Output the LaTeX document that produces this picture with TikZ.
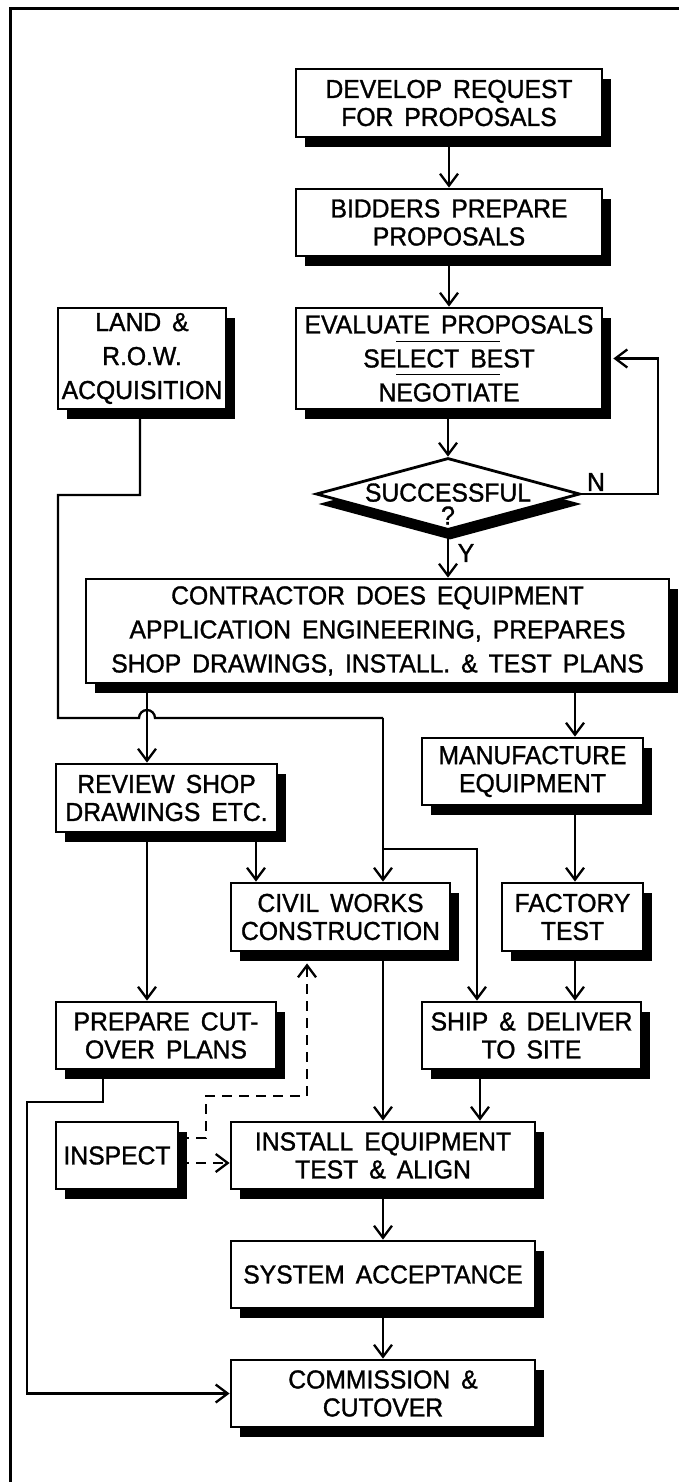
\documentclass[tikz,border=0pt]{standalone}
\usepackage{fontspec}
\setmainfont[FakeStretch=0.95,FakeBold=1.2,WordSpace=1.6]{Liberation Sans}
\usetikzlibrary{arrows.meta,shapes.geometric,shadows,calc}
\newcommand\bxfont{\fontsize{26}{28}\selectfont}
\newcommand\bxfontw{\fontsize{26}{34}\selectfont}
\newcommand\dcfont{\fontsize{26}{23}\selectfont}
\begin{document}
\begin{tikzpicture}[x=1pt,y=-1pt,
  shad/.style={drop shadow={shadow xshift=9pt,shadow yshift=-10pt,fill=black,opacity=1}},
  box/.style={draw,line width=2.8pt,fill=white,rectangle,inner sep=0pt,align=center,font=\bxfont,shad},
  boxw/.style={box,font=\bxfontw},
  conn/.style={line width=2.3pt},
  arr/.style={conn,-{Straight Barb[length=12pt,width=18pt]}},
  darr/.style={arr,dash pattern=on 10pt off 7pt},
  lbl/.style={font=\bxfont,inner sep=0pt}
]
\useasboundingbox (0,0) rectangle (679,1482);
% frame
\draw[line width=3pt] (679,9) -- (10,9) -- (10,1482);

% nodes
\node[box,minimum width=306pt,minimum height=68pt] (dev) at (449,103) {DEVELOP REQUEST\\FOR PROPOSALS};
\node[box,minimum width=306pt,minimum height=67pt] (bid) at (449,222.5) {BIDDERS PREPARE\\PROPOSALS};
\node[boxw,minimum width=306pt,minimum height=101pt] (eval) at (449,358.5) {EVALUATE PROPOSALS\\SELECT BEST\\NEGOTIATE};
\node[boxw,minimum width=168pt,minimum height=101pt] (land) at (142,358.5) {LAND \&\\R.O.W.\\ACQUISITION};
\node[draw,diamond,line width=2.8pt,fill=white,inner sep=0pt,minimum width=264pt,minimum height=72pt,
      drop shadow={shadow xshift=2pt,shadow yshift=-10pt,fill=black,opacity=1}] (dec) at (448,494) {};
\node[lbl,align=center,font=\dcfont] (dectxt) at (448,504) {SUCCESSFUL\\?};
\node[lbl] (nlab) at (596,482) {N};
\node[lbl] (ylab) at (466,553) {Y};
\node[boxw,minimum width=583pt,minimum height=104pt] (contr) at (377.5,631) {CONTRACTOR DOES EQUIPMENT\\APPLICATION ENGINEERING, PREPARES\\SHOP DRAWINGS, INSTALL. \& TEST PLANS};
\node[box,minimum width=221pt,minimum height=68pt] (review) at (166.5,798) {REVIEW SHOP\\DRAWINGS ETC.};
\node[box,minimum width=221pt,minimum height=67pt] (manuf) at (532.5,771.5) {MANUFACTURE\\EQUIPMENT};
\node[box,minimum width=219pt,minimum height=68pt] (civil) at (340.5,917) {CIVIL WORKS\\CONSTRUCTION};
\node[box,minimum width=141pt,minimum height=68pt] (factory) at (572.5,917) {FACTORY\\TEST};
\node[box,minimum width=220pt,minimum height=67pt] (prepare) at (166,1035.5) {PREPARE CUT-\\OVER PLANS};
\node[box,minimum width=219pt,minimum height=67pt] (ship) at (531.5,1035.5) {SHIP \& DELIVER\\TO SITE};
\node[box,minimum width=122pt,minimum height=67pt] (inspect) at (117,1155.5) {INSPECT};
\node[box,minimum width=304pt,minimum height=67pt] (install) at (383,1155.5) {INSTALL EQUIPMENT\\TEST \& ALIGN};
\node[box,minimum width=304pt,minimum height=67pt] (system) at (383,1274.5) {SYSTEM ACCEPTANCE};
\node[box,minimum width=304pt,minimum height=67pt] (comm) at (383,1393.5) {COMMISSION \&\\CUTOVER};

% separators in evaluate box
\draw[line width=1.8pt] ($(eval.center)+(-53,-17)$) -- ($(eval.center)+(51,-17)$);
\draw[line width=1.8pt] ($(eval.center)+(-53,16)$) -- ($(eval.center)+(51,16)$);

% helper coordinates
\coordinate (fbk) at (658,358.5);
\coordinate (evalsh) at ([xshift=10pt]eval.east);
\coordinate (l1) at (140,495);
\coordinate (l2) at (58,495);
\coordinate (l3) at (58,718);
\coordinate (l4) at (383,718);
\coordinate (br) at (383,849);
\coordinate (br2) at (477,849);
\coordinate (rvx) at (147,718);
\coordinate (rcx) at (256,850);
\coordinate (mx) at (575,700);
\coordinate (sx) at (480,1100);
\coordinate (px) at (103,1102);
\coordinate (pl) at (27,1102);
\coordinate (ic1) at (206,1096);
\coordinate (ic2) at (307,1096);
\coordinate (civsh) at ([yshift=-11pt]civil.south);

% connectors
\draw[arr] (dev.south) -- (bid.north);
\draw[arr] (bid.south) -- (eval.north);
\draw[arr] (eval.south -| dec.north) -- (dec.north);
\draw[arr] (dec.south) -- (dec.south |- contr.north);
\draw[arr] (dec.east) -| (fbk) -- (evalsh);
\draw[conn] (l1 |- land.south) -- (l1) -- (l2) -- (l3) -- ([xshift=-8pt]rvx)
   arc[start angle=180,end angle=0,radius=8pt] -- (l4);
\draw[arr] (l4) -- (l4 |- civil.north);
\draw[arr] (br) -- (br2) -- (br2 |- ship.north);
\draw[arr] (rvx |- contr.south) -- (rvx |- review.north);
\draw[arr] (mx |- contr.south) -- (mx |- manuf.north);
\draw[arr] (mx |- manuf.south) -- (mx |- factory.north);
\draw[arr] (mx |- factory.south) -- (mx |- ship.north);
\draw[arr] (rcx |- review.south) -- (rcx |- civil.north);
\draw[arr] (rvx |- review.south) -- (rvx |- prepare.north);
\draw[arr] (l4 |- civil.south) -- (l4 |- install.north);
\draw[arr] (sx |- ship.south) -- (sx |- install.north);
\draw[arr] (install.south) -- (system.north);
\draw[arr] (system.south) -- (comm.north);
\draw[arr] (px |- prepare.south) -- (px) -- (pl) |- (comm.west);
\draw[darr] ([yshift=-7.5pt]inspect.east) -- ([yshift=-7.5pt]install.west);
\draw[darr] ([yshift=17.5pt]inspect.east) -| (ic1) -- (ic2) -- (ic2 |- civsh);
\end{tikzpicture}
\end{document}
